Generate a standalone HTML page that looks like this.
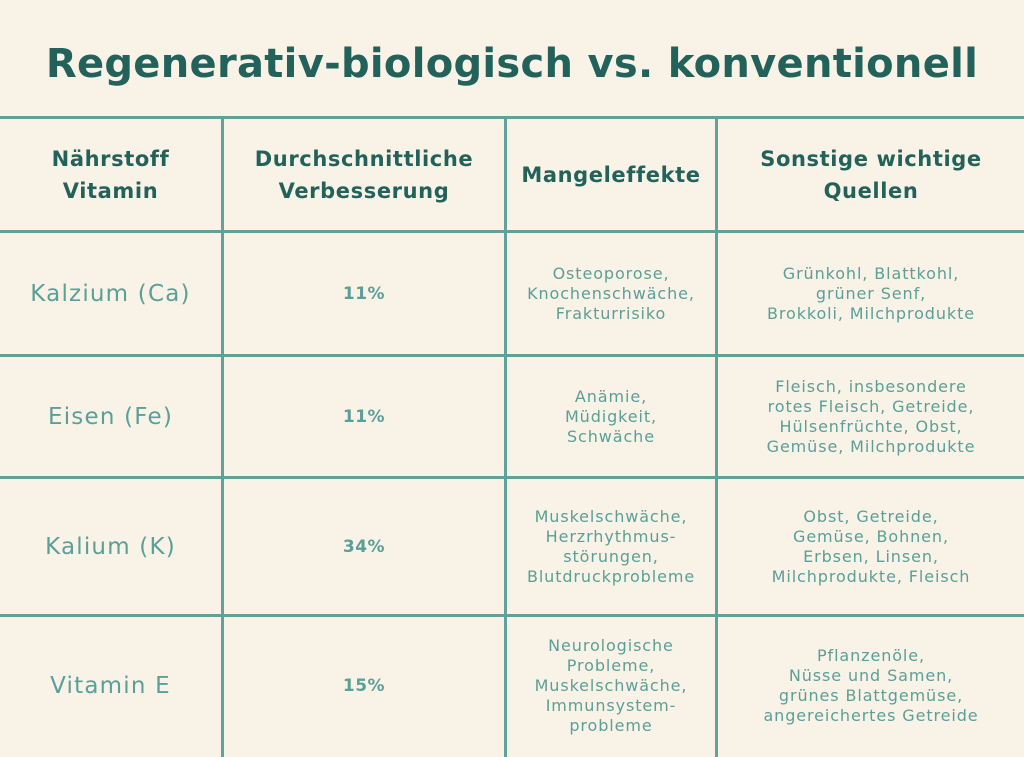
<!DOCTYPE html>
<html><head><meta charset="utf-8"><style>
body{margin:0;width:1024px;height:754px;background:#f9f2e7;position:relative;overflow:hidden;font-family:"DejaVu Sans","Liberation Sans",sans-serif}
.h{position:absolute;left:0;width:1024px;height:3px;background:#62a19b}
.v{position:absolute;top:117px;width:3px;height:640px;background:#62a19b}
.c{position:absolute;display:flex;align-items:center;justify-content:center;text-align:center}
.hd{color:#22625a;font-weight:bold;font-size:21px;line-height:32px;letter-spacing:0.6px}
.b{color:#5aa098;font-size:16px;line-height:20px;letter-spacing:0.9px}
.f{color:#5aa098;font-size:23px;letter-spacing:1.2px}
.p{color:#5aa098;font-size:17px;font-weight:bold;letter-spacing:0.5px}
h1{position:absolute;top:38px;left:0;width:1024px;margin:0;text-align:center;color:#22625a;font-size:40px;font-weight:bold;line-height:52px;letter-spacing:0.3px}
</style></head><body>
<h1>Regenerativ-biologisch vs. konventionell</h1>
<div class="h" style="top:116px"></div><div class="h" style="top:230px"></div><div class="h" style="top:354px"></div><div class="h" style="top:476px"></div><div class="h" style="top:614px"></div>
<div class="v" style="left:221px"></div><div class="v" style="left:504px"></div><div class="v" style="left:715px"></div>

<div class="c hd" style="left:0;width:221px;top:119px;height:111px">Nährstoff<br>Vitamin</div>
<div class="c hd" style="left:224px;width:280px;top:119px;height:111px">Durchschnittliche<br>Verbesserung</div>
<div class="c hd" style="left:507px;width:208px;top:119px;height:111px">Mangeleffekte</div>
<div class="c hd" style="left:718px;width:306px;top:119px;height:111px">Sonstige wichtige<br>Quellen</div>

<div class="c f" style="left:0;width:221px;top:233px;height:121px">Kalzium (Ca)</div>
<div class="c p" style="left:224px;width:280px;top:233px;height:121px">11%</div>
<div class="c b" style="left:507px;width:208px;top:233px;height:121px">Osteoporose,<br>Knochenschwäche,<br>Frakturrisiko</div>
<div class="c b" style="left:718px;width:306px;top:233px;height:121px">Grünkohl, Blattkohl,<br>grüner Senf,<br>Brokkoli, Milchprodukte</div>

<div class="c f" style="left:0;width:221px;top:357px;height:119px">Eisen (Fe)</div>
<div class="c p" style="left:224px;width:280px;top:357px;height:119px">11%</div>
<div class="c b" style="left:507px;width:208px;top:357px;height:119px">Anämie,<br>Müdigkeit,<br>Schwäche</div>
<div class="c b" style="left:718px;width:306px;top:357px;height:119px">Fleisch, insbesondere<br>rotes Fleisch, Getreide,<br>Hülsenfrüchte, Obst,<br>Gemüse, Milchprodukte</div>

<div class="c f" style="left:0;width:221px;top:479px;height:135px">Kalium (K)</div>
<div class="c p" style="left:224px;width:280px;top:479px;height:135px">34%</div>
<div class="c b" style="left:507px;width:208px;top:479px;height:135px">Muskelschwäche,<br>Herzrhythmus-<br>störungen,<br>Blutdruckprobleme</div>
<div class="c b" style="left:718px;width:306px;top:479px;height:135px">Obst, Getreide,<br>Gemüse, Bohnen,<br>Erbsen, Linsen,<br>Milchprodukte, Fleisch</div>

<div class="c f" style="left:0;width:221px;top:617px;height:137px">Vitamin E</div>
<div class="c p" style="left:224px;width:280px;top:617px;height:137px">15%</div>
<div class="c b" style="left:507px;width:208px;top:617px;height:137px">Neurologische<br>Probleme,<br>Muskelschwäche,<br>Immunsystem-<br>probleme</div>
<div class="c b" style="left:718px;width:306px;top:617px;height:137px">Pflanzenöle,<br>Nüsse und Samen,<br>grünes Blattgemüse,<br>angereichertes Getreide</div>
</body></html>
